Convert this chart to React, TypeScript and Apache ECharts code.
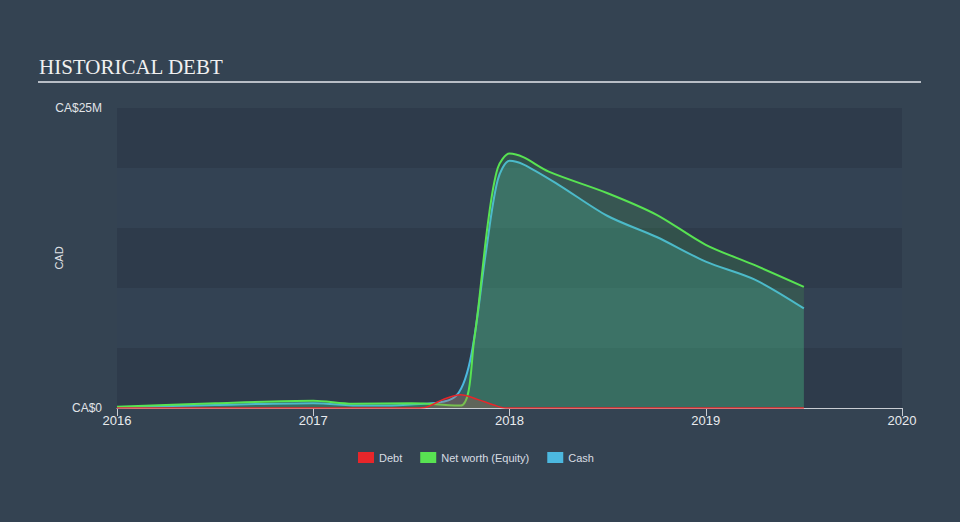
import React, { useEffect, useRef } from "react";
import * as echarts from "echarts";

const debtPoints: [number, number][] = [
  [2016, 0], [2016.5, 0], [2017, 0], [2017.5, 0], [2017.57, 0.05], [2017.66, 0.7],
  [2017.75, 1.1], [2017.84, 0.7], [2017.92, 0.25], [2017.98, 0], [2018.5, 0],
  [2019, 0], [2019.5, 0],
];

const equityPoints: [number, number][] = [
  [2016, 0.1], [2016.5, 0.4], [2017, 0.6], [2017.2, 0.35], [2017.5, 0.4],
  [2017.75, 0.2], [2017.82, 5.7], [2017.89, 15.4], [2017.94, 20.0], [2018.0, 21.2],
  [2018.07, 20.9], [2018.2, 19.7], [2018.5, 17.9], [2018.75, 16.1],
  [2019, 13.6], [2019.25, 11.9], [2019.5, 10.1],
];

const cashPoints: [number, number][] = [
  [2016, 0.05], [2016.5, 0.25], [2017, 0.4], [2017.25, 0.2], [2017.5, 0.3],
  [2017.72, 0.9], [2017.8, 4.0], [2017.88, 13.0], [2017.94, 19.0], [2018.0, 20.6],
  [2018.07, 20.3], [2018.25, 18.6], [2018.5, 16.0], [2018.75, 14.25], [2019, 12.2],
  [2019.25, 10.7], [2019.5, 8.3],
];

const yearTicks = [2016, 2017, 2018, 2019, 2020];

export default function App() {
  const ref = useRef<HTMLDivElement>(null);
  useEffect(() => {
    document.body.style.margin = "0";
    document.body.style.background = "#344352";
    if (!ref.current) return;
    const chart = echarts.init(ref.current, null, { renderer: "svg" });
    const font = "Arial, 'Liberation Sans', sans-serif";
    chart.setOption({
      animation: false,
      backgroundColor: "#344352",
      title: {
        text: "HISTORICAL DEBT",
        left: 34,
        top: 51,
        textStyle: {
          color: "#f0f0f0",
          fontFamily: "'Liberation Serif', 'DejaVu Serif', serif",
          fontWeight: "normal",
          fontSize: 21,
        },
      },
      graphic: [
        {
          type: "line",
          shape: { x1: 38, y1: 82, x2: 921, y2: 82 },
          style: { stroke: "#b8bec6", lineWidth: 2 },
        },
      ],
      legend: {
        bottom: 54,
        left: 353,
        itemWidth: 16,
        itemHeight: 11,
        itemGap: 18,
        icon: "rect",
        textStyle: { color: "#d8dde3", fontSize: 11, fontFamily: font },
        data: ["Debt", "Net worth (Equity)", "Cash"],
      },
      grid: { left: 117, right: 58, top: 108, bottom: 114 },
      xAxis: {
        type: "value",
        min: 2016,
        max: 2020,
        interval: 1,
        axisLine: { show: true, lineStyle: { color: "#c8ccd2", width: 1 } },
        axisTick: { show: true, length: 8, lineStyle: { color: "#c8ccd2" } },
        axisLabel: {
          color: "#e8ebee",
          fontSize: 13,
          fontFamily: font,
          margin: 6,
          formatter: (v: number) => (yearTicks.includes(v) ? String(v) : ""),
        },
        splitLine: { show: false },
      },
      yAxis: {
        type: "value",
        min: 0,
        max: 25,
        interval: 5,
        name: "CAD",
        nameLocation: "middle",
        nameGap: 53,
        nameMoveOverlap: false,
        nameTextStyle: { color: "#e0e4e8", fontSize: 11, fontFamily: font },
        axisLine: { show: false },
        axisTick: { show: false },
        axisLabel: {
          color: "#e0e4e8",
          fontSize: 12,
          fontFamily: font,
          margin: 15,
          formatter: (v: number) => (v === 0 ? "CA$0" : v === 25 ? "CA$25M" : ""),
        },
        splitLine: { show: false },
        splitArea: { show: true, areaStyle: { color: ["#2e3b4b", "#334253"] } },
      },
      series: [
        {
          name: "Net worth (Equity)",
          type: "line",
          data: equityPoints,
          smooth: 0.3,
          showSymbol: false,
          color: "#58e352",
          lineStyle: { color: "#58e352", width: 2 },
          areaStyle: { color: "rgba(80,200,80,0.22)" },
          z: 3,
        },
        {
          name: "Cash",
          type: "line",
          data: cashPoints,
          smooth: 0.3,
          showSymbol: false,
          color: "#4cb8df",
          lineStyle: { color: "#4cb8df", width: 2 },
          areaStyle: { color: "rgba(70,170,160,0.45)" },
          z: 2,
        },
        {
          name: "Debt",
          type: "line",
          data: debtPoints,
          smooth: 0.3,
          showSymbol: false,
          color: "#e8262a",
          lineStyle: { color: "#e8262a", width: 1.5 },
          areaStyle: { color: "rgba(220,80,70,0.35)" },
          z: 4,
        },
      ],
    });
    return () => chart.dispose();
  }, []);
  return <div ref={ref} style={{ width: 960, height: 522 }} />;
}
